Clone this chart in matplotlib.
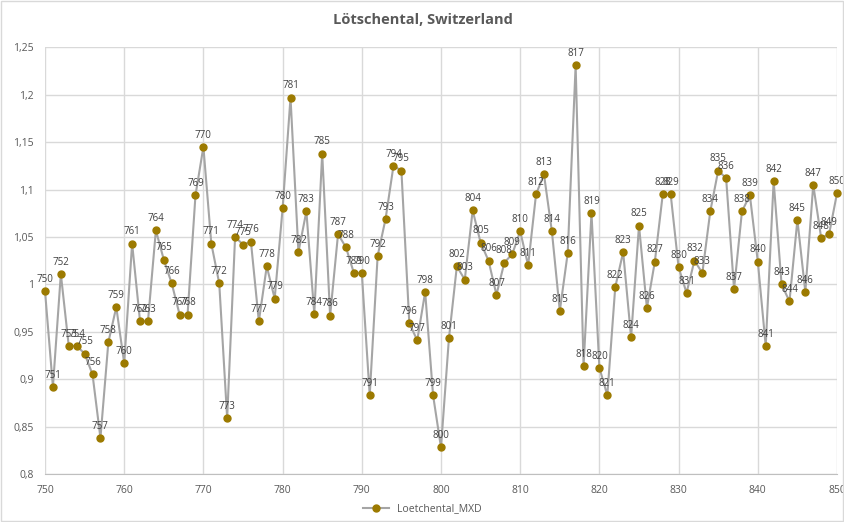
import numpy as np
import matplotlib.pyplot as plt
from matplotlib.patches import Rectangle

years = list(range(750, 851))
mxd = [
    0.993, 0.892, 1.011, 0.935, 0.935, 0.927, 0.905, 0.838, 0.939, 0.976,  # 750-759
    0.917, 1.043, 0.961, 0.961, 1.057, 1.026, 1.001, 0.968, 0.968, 1.094,  # 760-769
    1.145, 1.043, 1.001, 0.859, 1.050, 1.042, 1.045, 0.961, 1.019, 0.985,  # 770-779
    1.080, 1.197, 1.034, 1.077, 0.969, 1.138, 0.967, 1.053, 1.039, 1.012,  # 780-789
    1.012, 0.883, 1.030, 1.069, 1.125, 1.120, 0.959, 0.941, 0.992, 0.883,  # 790-799
    0.828, 0.943, 1.019, 1.005, 1.078, 1.044, 1.025, 0.989, 1.023, 1.032,  # 800-809
    1.056, 1.020, 1.095, 1.116, 1.056, 0.972, 1.033, 1.231, 0.914, 1.075,  # 810-819
    0.912, 0.883, 0.997, 1.034, 0.944, 1.062, 0.975, 1.024, 1.095, 1.095,  # 820-829
    1.018, 0.991, 1.025, 1.012, 1.077, 1.120, 1.112, 0.995, 1.077, 1.094,  # 830-839
    1.024, 0.935, 1.109, 1.000, 0.982, 1.068, 0.992, 1.105, 1.049, 1.053,  # 840-849
    1.096,                                                                 # 850
]
series_name = 'Loetchental_MXD'
title = 'Lötschental, Switzerland'

plt.rcParams['font.family'] = ['Open Sans', 'DejaVu Sans']

fig = plt.figure(figsize=(8.45, 5.22), dpi=100)
ax = fig.add_axes([45 / 845, 1 - 474 / 522, 792 / 845, 426.7 / 522])

ax.plot(years, mxd, color='#A5A5A5', lw=1.5, marker='o', ms=5,
        mfc='#9C7A00', mec='#9C7A00', label=series_name, zorder=3, clip_on=False)
for yr, v in zip(years, mxd):
    ax.annotate(str(yr), (yr, v), xytext=(0, 4.5), textcoords='offset points',
                ha='center', va='bottom', fontsize=7, color='#404040', zorder=4)

ax.set_xlim(750, 850)
ax.set_ylim(0.8, 1.25)
ax.set_xticks(np.arange(750, 851, 10))
yt = np.arange(0.8, 1.2501, 0.05)
ax.set_yticks(yt)
ax.set_yticklabels([f'{t:g}'.replace('.', ',') for t in np.round(yt, 2)])
ax.tick_params(length=0, labelsize=7.5, colors='#595959', pad=8)
ax.grid(True, color='#D9D9D9', lw=1)
ax.set_axisbelow(True)
for s in ['top', 'right', 'left']:
    ax.spines[s].set_visible(False)
ax.spines['bottom'].set_color('#BFBFBF')

fig.text(0.5, 1 - 20 / 522, title, ha='center', va='center',
         fontsize=10.5, fontweight='bold', color='#595959')

fig.legend(loc='center', bbox_to_anchor=(0.5, 1 - 509 / 522), frameon=False,
           fontsize=7.5, labelcolor='#595959', handlelength=2.5)

fig.patches.append(Rectangle((0.001, 0.001), 0.997, 0.997, transform=fig.transFigure,
                             fill=False, edgecolor='#D9D9D9', lw=1))

fig.savefig('out.png', dpi=100)
